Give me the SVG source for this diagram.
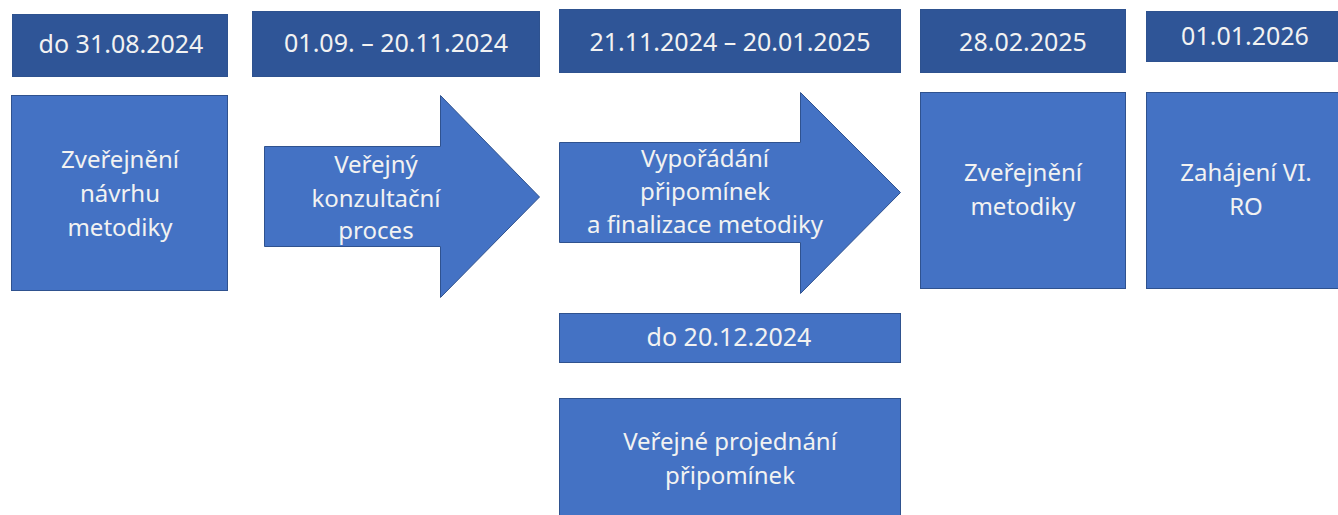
<svg xmlns="http://www.w3.org/2000/svg" width="1338" height="515" viewBox="0 0 1338 515">
<style>
.date{fill:#2F5597;stroke:#2E528F;stroke-width:1}
.node{fill:#4472C4;stroke:#2F528F;stroke-width:1}
text{font-family:"Noto Sans","Open Sans","DejaVu Sans",sans-serif;font-size:24px;fill:#F2F2F2;text-anchor:middle}
.d{font-size:25px}
</style>
<rect width="1338" height="515" fill="#FFFFFF"/>
<g id="date1"><rect class="date" x="12.5" y="14.5" width="215" height="62"/><text class="d" x="121" y="53">do 31.08.2024</text></g>
<g id="date2"><rect class="date" x="252.5" y="11.5" width="287" height="65"/><text class="d" x="396" y="52">01.09. – 20.11.2024</text></g>
<g id="date3"><rect class="date" x="559.5" y="9.5" width="341" height="63"/><text class="d" x="730" y="51">21.11.2024 – 20.01.2025</text></g>
<g id="date4"><rect class="date" x="920.5" y="9.5" width="205" height="63"/><text class="d" x="1023" y="51">28.02.2025</text></g>
<g id="date5"><rect class="date" x="1146.5" y="11.5" width="195" height="50"/><text class="d" x="1245" y="45">01.01.2026</text></g>
<g id="node1"><rect class="node" x="11.5" y="95.5" width="216" height="195"/><text x="120" y="168">Zveřejnění</text><text x="120" y="202">návrhu</text><text x="120" y="236">metodiky</text></g>
<g id="arrow1"><path class="node" d="M264.5,146.5 H440.5 V95.5 L539.5,197 L440.5,297.5 V246.5 H264.5 Z"/><text x="376" y="173">Veřejný</text><text x="376" y="207">konzultační</text><text x="376" y="239">proces</text></g>
<g id="arrow2"><path class="node" d="M559.5,142.5 H800.5 V92.5 L900.5,192.5 L800.5,293.5 V242.5 H559.5 Z"/><text x="705" y="167">Vypořádání</text><text x="705" y="200">připomínek</text><text x="705" y="233">a finalizace metodiky</text></g>
<g id="node4"><rect class="node" x="920.5" y="92.5" width="205" height="196"/><text x="1023" y="181">Zveřejnění</text><text x="1023" y="215">metodiky</text></g>
<g id="node5"><rect class="node" x="1146.5" y="92.5" width="195" height="196"/><text x="1246" y="181">Zahájení VI.</text><text x="1246" y="215">RO</text></g>
<g id="date6"><rect class="node" x="559.5" y="313.5" width="341" height="49"/><text class="d" x="729" y="346">do 20.12.2024</text></g>
<g id="node6"><rect class="node" x="559.5" y="398.5" width="341" height="130"/><text x="730" y="450">Veřejné projednání</text><text x="730" y="484">připomínek</text></g>
<g id="connectors"/>
</svg>
